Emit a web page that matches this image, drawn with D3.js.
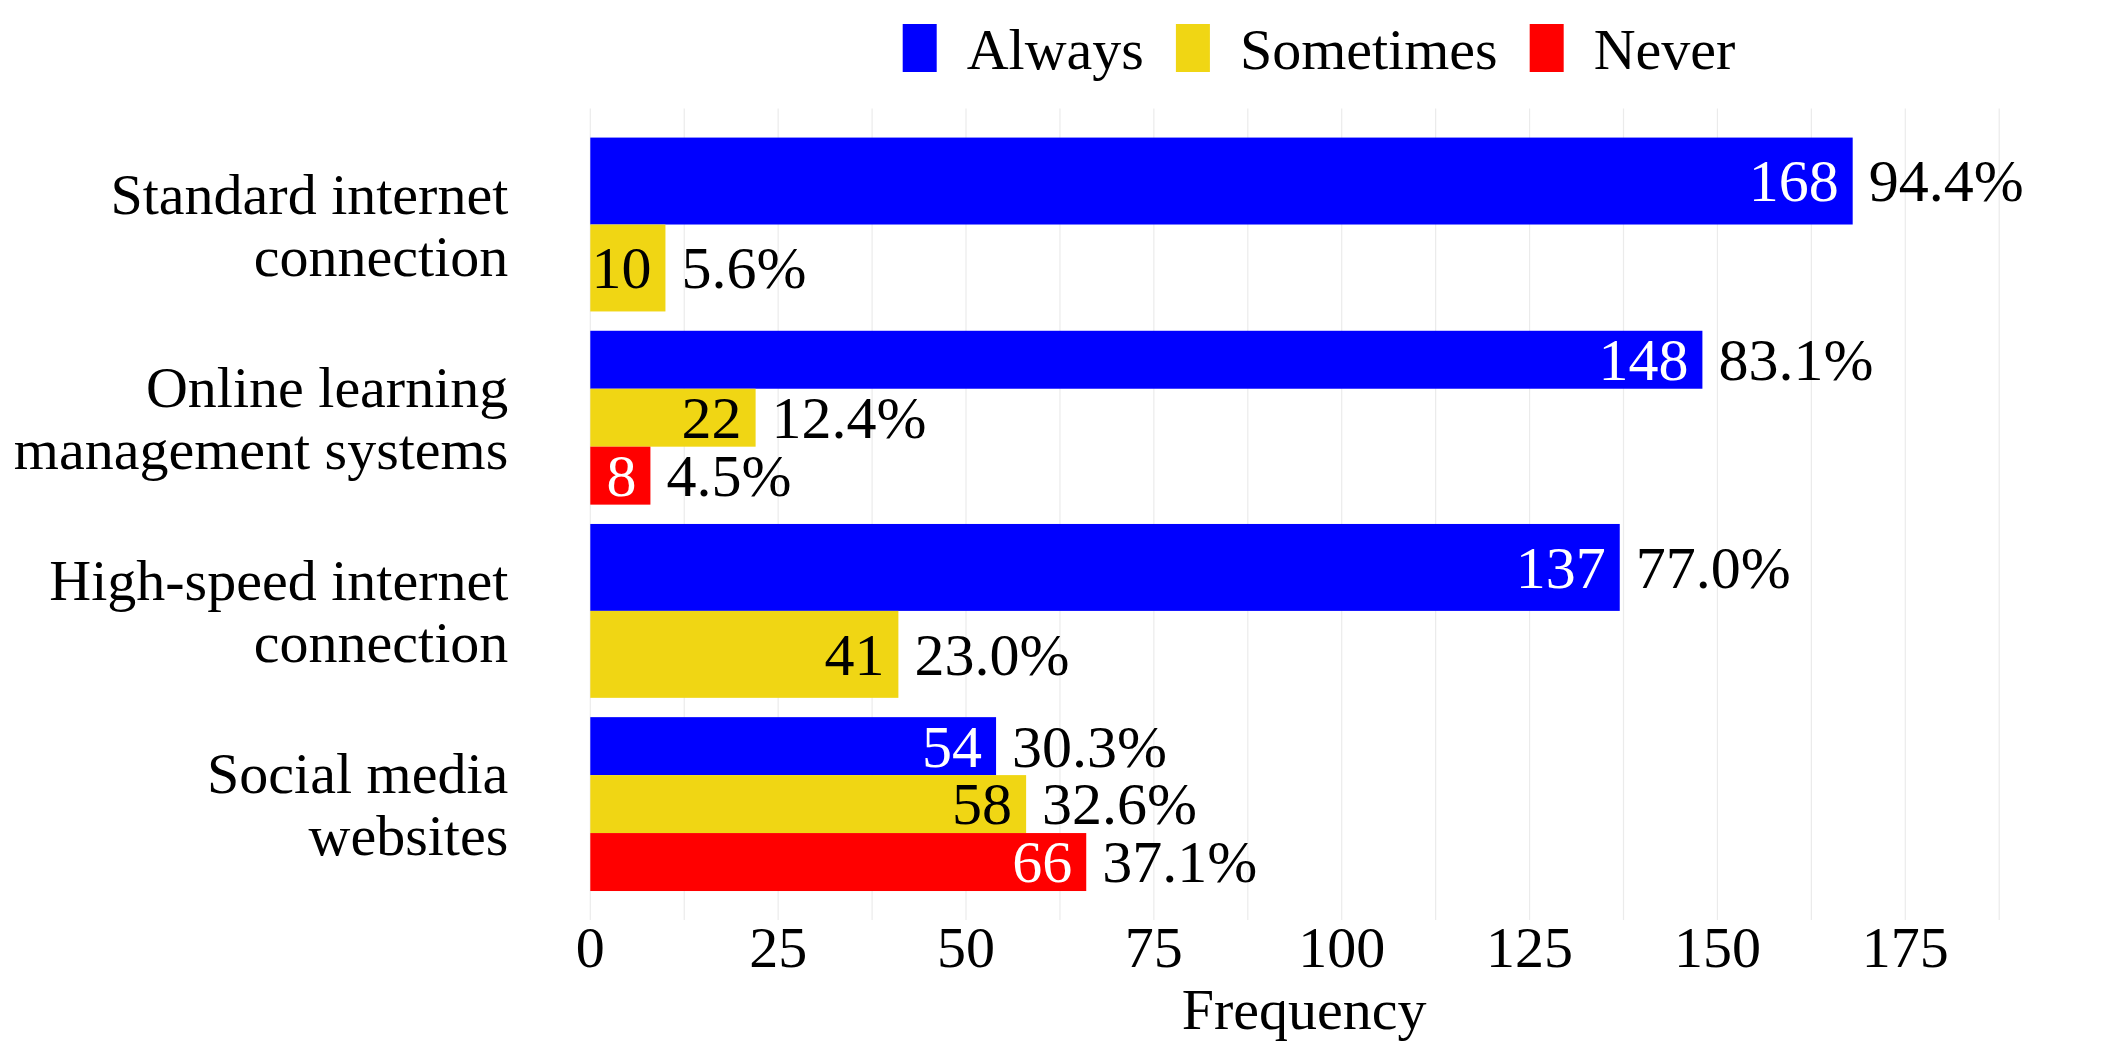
<!DOCTYPE html>
<html>
<head>
<meta charset="utf-8">
<script src="https://cdn.jsdelivr.net/npm/d3@7"></script>
<style>
    body { margin:0; background:white; }
    text { font-family: "Liberation Serif", "Times New Roman", serif; }
</style>
</head>
<body>
<svg id="chart"></svg>
<script>
// data
var categories = ["Standard internet\nconnection", "Online learning\nmanagement systems",
                  "High-speed internet\nconnection", "Social media\nwebsites"];
var seriesNames = ["Always", "Sometimes", "Never"];
var alwaysCounts    = [168, 148, 137, 54];
var sometimesCounts = [10, 22, 41, 58];
var neverCounts     = [null, 8, null, 66];
var alwaysPct    = ["94.4%", "83.1%", "77.0%", "30.3%"];
var sometimesPct = ["5.6%", "12.4%", "23.0%", "32.6%"];
var neverPct     = [null, "4.5%", null, "37.1%"];
var xTicks = [0, 25, 50, 75, 100, 125, 150, 175];
var xMinor = [12.5, 37.5, 62.5, 87.5, 112.5, 137.5, 162.5, 187.5];

var colors = {Always:"#0000FF", Sometimes:"#F0D614", Never:"#FF0000"};
var innerText = {Always:"white", Sometimes:"black", Never:"white"};

var initGraph = function(target)
{
    var screen = {width:2101, height:1051};
    var margins = {top:108.6, bottom:131, left:590.3, right:83};
    var graph =
    {
        width:screen.width-margins.left-margins.right,
        height:screen.height-margins.top-margins.bottom
    }

    d3.select(target)
        .attr("width",screen.width)
        .attr("height",screen.height)

    // flatten into one row per bar
    var rows = [];
    categories.forEach(function(cat,i)
    {
        var counts = [alwaysCounts[i], sometimesCounts[i], neverCounts[i]];
        var pcts = [alwaysPct[i], sometimesPct[i], neverPct[i]];
        var present = [];
        seriesNames.forEach(function(s,j)
        {
            if(counts[j] != null){present.push({cat:cat, series:s, value:counts[j], pct:pcts[j]})}
        })
        present.forEach(function(p,k){ p.slot = k; p.n = present.length; rows.push(p); })
    })

    var xScale = d3.scaleLinear()
        .domain([0,190])
        .range([0,graph.width]);
    var yScale = d3.scaleBand()
        .domain(categories)
        .range([0,graph.height])
        .paddingInner(0.1)
        .paddingOuter(0.15);

    var g = d3.select(target)
        .append("g")
        .attr("transform","translate("+margins.left+","+margins.top+")");

    // grid lines
    g.append("g").selectAll("line")
        .data(xTicks.concat(xMinor))
        .enter()
        .append("line")
        .attr("x1",function(d){return xScale(d)})
        .attr("x2",function(d){return xScale(d)})
        .attr("y1",0)
        .attr("y2",graph.height)
        .attr("stroke","#ebebeb")
        .attr("stroke-width",1.2)

    var barH = function(d){return yScale.bandwidth()/d.n}
    var barY = function(d){return yScale(d.cat) + d.slot*barH(d)}

    g.append("g").selectAll("rect")
        .data(rows)
        .enter()
        .append("rect")
        .attr("x",xScale(0))
        .attr("y",barY)
        .attr("width",function(d){return xScale(d.value)-xScale(0)})
        .attr("height",barH)
        .attr("fill",function(d){return colors[d.series]})

    // counts inside bars
    g.append("g").selectAll("text")
        .data(rows)
        .enter()
        .append("text")
        .text(function(d){return d.value})
        .attr("x",function(d){return xScale(d.value)-14})
        .attr("y",function(d){return barY(d)+barH(d)/2})
        .attr("dy","0.34em")
        .attr("text-anchor","end")
        .attr("font-size",60)
        .attr("fill",function(d){return innerText[d.series]})

    // percentages outside bars
    g.append("g").selectAll("text")
        .data(rows)
        .enter()
        .append("text")
        .text(function(d){return d.pct})
        .attr("x",function(d){return xScale(d.value)+16})
        .attr("y",function(d){return barY(d)+barH(d)/2})
        .attr("dy","0.34em")
        .attr("font-size",60)
        .attr("fill","black")

    // x tick labels
    g.append("g").selectAll("text")
        .data(xTicks)
        .enter()
        .append("text")
        .text(function(d){return d})
        .attr("x",function(d){return xScale(d)})
        .attr("y",graph.height+47)
        .attr("text-anchor","middle")
        .attr("font-size",58)

    g.append("text")
        .text("Frequency")
        .attr("x",graph.width/2)
        .attr("y",graph.height+109)
        .attr("text-anchor","middle")
        .attr("font-size",58)

    // category labels, two lines each
    var lineH = 62;
    var fs = 58;
    var catLabels = g.append("g").selectAll("text")
        .data(categories)
        .enter()
        .append("text")
        .attr("text-anchor","end")
        .attr("font-size",fs)
    catLabels.each(function(d)
    {
        var lines = d.split("\n");
        var t = d3.select(this);
        var cy = yScale(d)+yScale.bandwidth()/2;
        lines.forEach(function(line,i)
        {
            t.append("tspan")
                .text(line)
                .attr("x",-82)
                .attr("y",cy + (i-(lines.length-1)/2)*lineH + 0.35*fs)
        })
    })

    createLegend(target);
}

var createLegend = function(target)
{
    var legend = d3.select(target)
        .append("g")
        .classed("legend",true)
    var x = 902.7;
    seriesNames.forEach(function(s)
    {
        legend.append("rect")
            .attr("x",x)
            .attr("y",24)
            .attr("width",34)
            .attr("height",48)
            .attr("fill",colors[s])
        var t = legend.append("text")
            .text(s)
            .attr("x",x+34+30)
            .attr("y",69)
            .attr("font-size",58)
        x = x+34+30+t.node().getComputedTextLength()+32;
    })
}

initGraph("#chart");
</script>
</body>
</html>
